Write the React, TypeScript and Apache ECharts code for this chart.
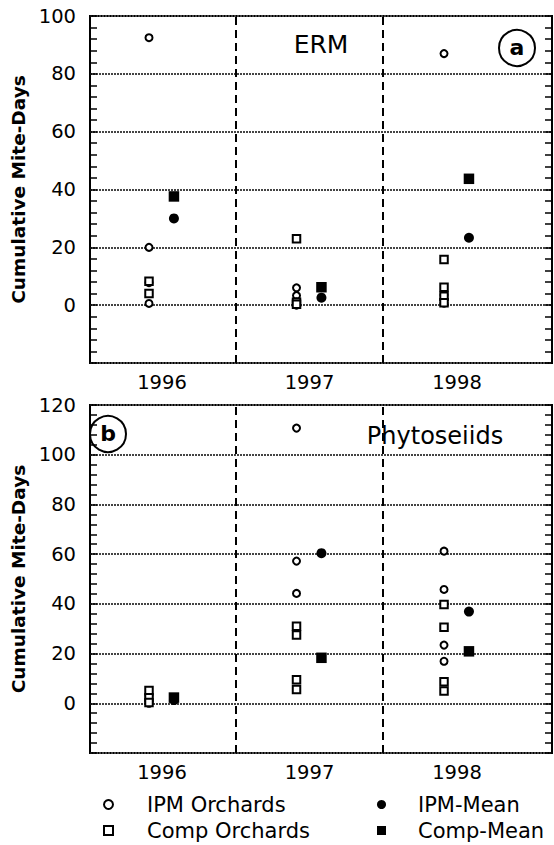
import React, { useEffect, useRef } from "react";
import * as echarts from "echarts";

// ---- data ----
const years = [1996, 1997, 1998];
const orchardOffset = -0.088;
const meanOffset = 0.081;
const dividers = [1996.5, 1997.5];

// Panel a: ERM
const ermIpmOrchards = [
  [92.5, 20, 7.8, 0.6],
  [6, 3.3, 1.2, 0],
  [87, 3.5, 2, 0.7],
];
const ermCompOrchards = [
  [8.3, 4.0],
  [23, 1, 0.3],
  [15.8, 6.2, 3.1, 0.8],
];
const ermIpmMean = [30.0, 2.6, 23.3];
const ermCompMean = [37.6, 6.2, 43.7];

// Panel b: Phytoseiids
const phyIpmOrchards = [
  [3.0, 1.2, 0],
  [110.7, 57.2, 44.2, 28],
  [61.2, 45.8, 23.4, 16.9],
];
const phyCompOrchards = [
  [5.1, 2.2, 0.3],
  [31, 27.5, 9.5, 5.5],
  [39.7, 30.6, 8.7, 4.9],
];
const phyIpmMean = [1.3, 60.4, 36.9];
const phyCompMean = [2.3, 18.3, 20.9];

const yTicksA = { min: -20, max: 100, interval: 20 };
const yTicksB = { min: -20, max: 120, interval: 20 };

const FONT = "DejaVu Sans";

function orchardPoints(groups: number[][]) {
  const pts: number[][] = [];
  groups.forEach((vals, i) =>
    vals.forEach((v) => pts.push([years[i] + orchardOffset, v]))
  );
  return pts;
}
function meanPoints(vals: number[]) {
  return vals.map((v, i) => [years[i] + meanOffset, v]);
}

function makeSeries(
  gi: number,
  ipmO: number[][],
  compO: number[][],
  ipmM: number[],
  compM: number[]
) {
  return [
    {
      type: "scatter",
      name: "IPM Orchards",
      xAxisIndex: gi,
      yAxisIndex: gi * 2,
      symbol: "circle",
      symbolSize: 7,
      itemStyle: { color: "#fff", borderColor: "#000", borderWidth: 2, opacity: 1 },
      data: orchardPoints(ipmO),
      markLine: {
        silent: true,
        symbol: ["none", "none"],
        label: { show: false },
        lineStyle: { color: "#000", width: 2, type: [8, 5], opacity: 1 },
        emphasis: { disabled: true },
        data: dividers.map((d) => ({ xAxis: d })),
      },
    },
    {
      type: "scatter",
      name: "Comp Orchards",
      xAxisIndex: gi,
      yAxisIndex: gi * 2,
      symbol: "rect",
      symbolSize: 7.5,
      itemStyle: { color: "#fff", borderColor: "#000", borderWidth: 2, opacity: 1 },
      data: orchardPoints(compO),
    },
    {
      type: "scatter",
      name: "IPM-Mean",
      xAxisIndex: gi,
      yAxisIndex: gi * 2,
      symbol: "circle",
      symbolSize: 10,
      itemStyle: { color: "#000", opacity: 1 },
      data: meanPoints(ipmM),
    },
    {
      type: "scatter",
      name: "Comp-Mean",
      xAxisIndex: gi,
      yAxisIndex: gi * 2,
      symbol: "rect",
      symbolSize: 10.5,
      itemStyle: { color: "#000", opacity: 1 },
      data: meanPoints(compM),
    },
  ];
}

function xAxisFor(gi: number) {
  return {
    type: "value",
    gridIndex: gi,
    min: 1995.512,
    max: 1998.644,
    axisLine: { show: false },
    axisTick: { show: false },
    splitLine: { show: false },
    axisLabel: {
      customValues: years,
      formatter: (v: number) => String(Math.round(v)),
      fontSize: 19.5,
      fontFamily: FONT,
      color: "#000",
      margin: 9,
    },
  };
}

function yAxesFor(gi: number, t: { min: number; max: number; interval: number }) {
  const tick = { show: true, inside: true, length: 7, lineStyle: { color: "#000", width: 1.5 } };
  const minor = { show: true, splitNumber: 5, length: 7, lineStyle: { color: "#000", width: 1.5 } };
  return [
    {
      type: "value",
      gridIndex: gi,
      position: "left",
      min: t.min,
      max: t.max,
      interval: t.interval,
      name: "Cumulative Mite-Days",
      nameLocation: "middle",
      nameGap: 58,
      nameTextStyle: { fontSize: 18.5, fontWeight: "bold", fontFamily: FONT, color: "#000" },
      axisLine: { show: false },
      axisTick: tick,
      minorTick: minor,
      splitLine: { show: true, lineStyle: { color: "#444", width: 1.8, type: [2, 1] } },
      axisLabel: {
        formatter: (v: number) => (v < 0 ? "" : String(v)),
        fontSize: 19.5,
        fontFamily: FONT,
        color: "#000",
        margin: 14,
      },
    },
    {
      type: "value",
      gridIndex: gi,
      position: "right",
      min: t.min,
      max: t.max,
      interval: t.interval,
      axisLine: { show: false },
      axisTick: tick,
      minorTick: minor,
      splitLine: { show: false },
      axisLabel: { show: false },
    },
  ];
}

export default function App() {
  const ref = useRef<HTMLDivElement>(null);
  useEffect(() => {
    if (!ref.current) return;
    const chart = echarts.init(ref.current, null, { renderer: "svg" });
    const legendText = { fontSize: 21, fontFamily: FONT, color: "#000" };
    chart.setOption({
      animation: false,
      backgroundColor: "#fff",
      grid: [
        { left: 90, top: 16, width: 462, height: 347, show: true, borderColor: "#000", borderWidth: 2 },
        { left: 90, top: 405, width: 462, height: 348, show: true, borderColor: "#000", borderWidth: 2 },
      ],
      xAxis: [xAxisFor(0), xAxisFor(1)],
      yAxis: [...yAxesFor(0, yTicksA), ...yAxesFor(1, yTicksB)],
      legend: [
        {
          left: 103,
          top: 794,
          orient: "vertical",
          padding: 0,
          itemGap: 5,
          itemWidth: 9,
          itemHeight: 9,
          selectedMode: false,
          data: ["IPM Orchards", "Comp Orchards"],
          textStyle: { ...legendText, padding: [0, 0, 0, 29] },
        },
        {
          left: 377,
          top: 794,
          orient: "vertical",
          padding: 0,
          itemGap: 5,
          itemWidth: 9,
          itemHeight: 9,
          selectedMode: false,
          data: ["IPM-Mean", "Comp-Mean"],
          textStyle: { ...legendText, padding: [0, 0, 0, 27] },
        },
      ],
      graphic: [
        {
          type: "text",
          x: 321,
          y: 44,
          style: { text: "ERM", fontSize: 25, fontFamily: FONT, fill: "#000", align: "center", verticalAlign: "middle" },
        },
        { type: "circle", shape: { cx: 517, cy: 48, r: 18 }, style: { fill: "none", stroke: "#000", lineWidth: 2 } },
        {
          type: "text",
          x: 517,
          y: 47,
          style: { text: "a", fontSize: 22, fontWeight: "bold", fontFamily: FONT, fill: "#000", align: "center", verticalAlign: "middle" },
        },
        {
          type: "text",
          x: 435,
          y: 436,
          style: { text: "Phytoseiids", fontSize: 24, fontFamily: FONT, fill: "#000", align: "center", verticalAlign: "middle" },
        },
        { type: "circle", shape: { cx: 108, cy: 434, r: 18 }, style: { fill: "none", stroke: "#000", lineWidth: 2 } },
        {
          type: "text",
          x: 108,
          y: 433,
          style: { text: "b", fontSize: 22, fontWeight: "bold", fontFamily: FONT, fill: "#000", align: "center", verticalAlign: "middle" },
        },
      ],
      series: [
        ...makeSeries(0, ermIpmOrchards, ermCompOrchards, ermIpmMean, ermCompMean),
        ...makeSeries(1, phyIpmOrchards, phyCompOrchards, phyIpmMean, phyCompMean),
      ],
    });
    return () => chart.dispose();
  }, []);
  return (
    <div
      ref={ref}
      style={{ position: "fixed", left: 0, top: 0, width: 554, height: 845 }}
    />
  );
}
